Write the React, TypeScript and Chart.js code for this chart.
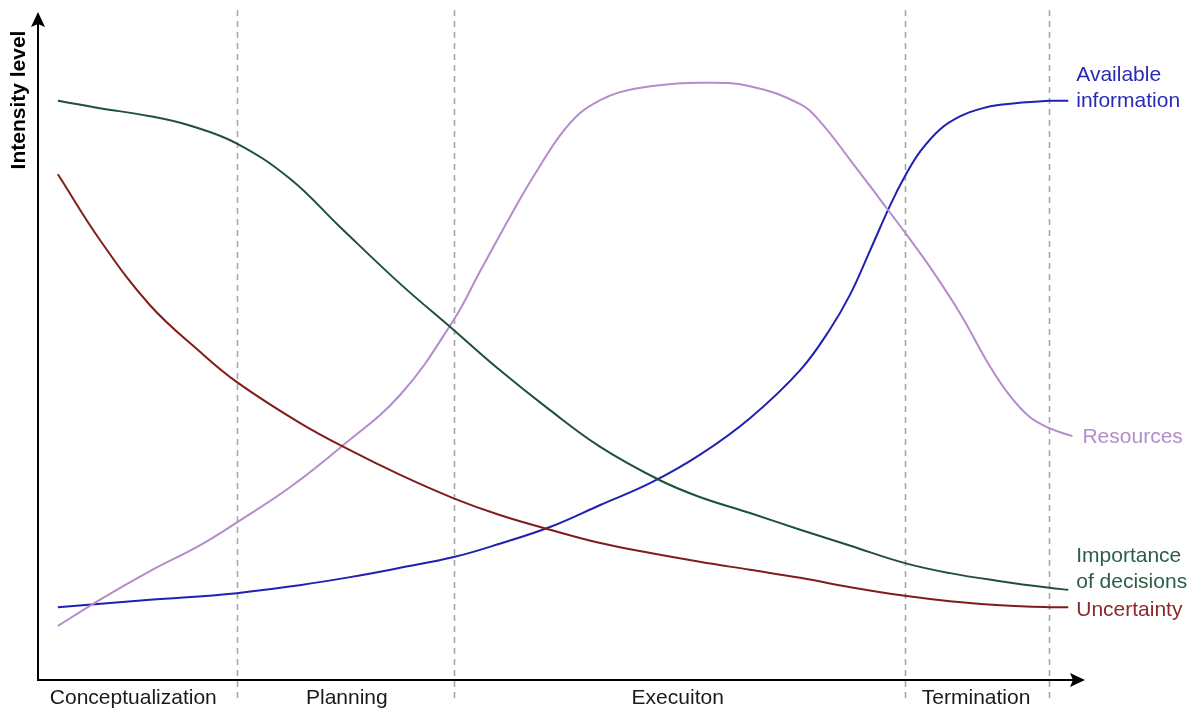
import React, { useEffect, useRef } from "react";
import { Chart, registerables } from "chart.js";

Chart.register(...registerables);

// Data in abstract units: x = project time (0..100), y = intensity (0..100)
const importanceX = [1.9, 5.9, 10.7, 14.5, 19.0, 24.1, 28.8, 34.6, 39.7, 44.1, 48.9, 53.7, 59.4, 63.2, 68.0, 72.8, 77.6, 82.8, 87.1, 91.9, 96.6, 98.4];
const importanceY = [86.7, 85.6, 84.4, 83.0, 80.3, 75.0, 67.9, 59.3, 52.4, 46.4, 40.4, 34.9, 29.9, 27.4, 25.0, 22.5, 20.1, 17.5, 16.0, 14.8, 13.8, 13.5];

const uncertaintyX = [1.9, 5.9, 10.7, 15.5, 19.0, 25.0, 29.8, 34.6, 39.7, 44.1, 48.9, 53.7, 58.5, 63.2, 68.0, 72.8, 77.6, 82.8, 87.1, 91.9, 96.6, 98.4];
const uncertaintyY = [75.7, 65.9, 56.1, 49.1, 44.6, 38.5, 34.4, 30.7, 27.2, 24.7, 22.5, 20.5, 19.0, 17.7, 16.5, 15.3, 13.9, 12.6, 11.8, 11.2, 10.9, 10.9];

const resourcesX = [1.9, 5.9, 10.7, 15.5, 19.0, 24.1, 28.8, 34.6, 39.7, 42.2, 46.0, 48.0, 49.9, 51.8, 53.7, 55.6, 58.5, 63.2, 68.0, 72.8, 74.7, 77.6, 80.4, 82.8, 85.2, 88.1, 90.9, 92.8, 94.7, 96.6, 98.8];
const resourcesY = [8.1, 12.0, 16.3, 20.2, 23.6, 28.9, 34.7, 42.7, 53.9, 61.1, 71.9, 77.1, 81.6, 84.9, 86.8, 88.0, 88.9, 89.4, 88.9, 86.2, 83.6, 77.8, 72.0, 67.0, 61.8, 54.8, 47.0, 42.6, 39.4, 37.7, 36.5];

const informationX = [1.9, 10.7, 19.0, 25.0, 29.8, 34.6, 39.7, 44.1, 48.9, 53.7, 58.5, 63.2, 68.0, 72.8, 75.6, 77.6, 79.5, 81.4, 82.8, 84.3, 86.2, 88.1, 90.0, 91.9, 96.6, 98.4];
const informationY = [10.9, 12.0, 13.0, 14.2, 15.4, 16.8, 18.4, 20.4, 22.9, 26.2, 29.5, 33.7, 39.2, 46.4, 52.4, 57.8, 64.4, 71.1, 75.4, 79.2, 82.5, 84.4, 85.5, 86.1, 86.7, 86.7];

const phaseBoundaries = [19.0, 39.7, 82.8, 96.6];
const phaseNames = ["Conceptualization", "Planning", "Execuiton", "Termination"];
const phaseCenters = [9.1, 29.5, 61.1, 89.6];

const seriesNames = [
  ["Importance", "of decisions"],
  ["Uncertainty"],
  ["Resources"],
  ["Available", "information"],
];
const lineColors = ["#1f5138", "#801c1c", "#b48ccb", "#2020b2"];
const textColors = ["#2c5e46", "#8c2828", "#b08dcc", "#2a2ab8"];
const yTitle = "Intensity level";

const FONT = "'Liberation Sans', Arial, sans-serif";

const toPts = (xs: number[], ys: number[]) => xs.map((x, i) => ({ x, y: ys[i] }));

const decorPlugin = {
  id: "decor",
  beforeDatasetsDraw(chart: any) {
    const { ctx, scales } = chart;
    const xs = scales.x;
    ctx.save();
    ctx.strokeStyle = "#a8a8a8";
    ctx.lineWidth = 1.6;
    ctx.setLineDash([6, 5]);
    phaseBoundaries.forEach((b) => {
      const px = Math.round(xs.getPixelForValue(b)) + 0.5;
      ctx.beginPath();
      ctx.moveTo(px, 10);
      ctx.lineTo(px, 700);
      ctx.stroke();
    });
    ctx.restore();
  },
  afterDraw(chart: any) {
    const { ctx, scales, chartArea } = chart;
    const xs = scales.x;
    const ys = scales.y;
    const left = chartArea.left;
    const bottom = chartArea.bottom;
    ctx.save();
    // axes
    ctx.strokeStyle = "#000";
    ctx.fillStyle = "#000";
    ctx.lineWidth = 2;
    ctx.setLineDash([]);
    ctx.beginPath();
    ctx.moveTo(left, bottom + 1);
    ctx.lineTo(left, chartArea.top + 10);
    ctx.stroke();
    ctx.beginPath();
    ctx.moveTo(left - 1, bottom);
    ctx.lineTo(chartArea.right - 10, bottom);
    ctx.stroke();
    // arrow heads
    ctx.beginPath();
    ctx.moveTo(left, chartArea.top);
    ctx.lineTo(left - 7, chartArea.top + 15);
    ctx.lineTo(left, chartArea.top + 12);
    ctx.lineTo(left + 7, chartArea.top + 15);
    ctx.closePath();
    ctx.fill();
    ctx.beginPath();
    ctx.moveTo(chartArea.right, bottom);
    ctx.lineTo(chartArea.right - 15, bottom - 7);
    ctx.lineTo(chartArea.right - 12, bottom);
    ctx.lineTo(chartArea.right - 15, bottom + 7);
    ctx.closePath();
    ctx.fill();

    // phase labels
    ctx.font = `21px ${FONT}`;
    ctx.fillStyle = "#1a1a1a";
    ctx.textAlign = "center";
    ctx.textBaseline = "middle";
    phaseNames.forEach((n, i) => {
      ctx.fillText(n, xs.getPixelForValue(phaseCenters[i]), bottom + 18);
    });

    // y title
    ctx.save();
    ctx.translate(19, 100);
    ctx.rotate(-Math.PI / 2);
    ctx.font = `bold 21px ${FONT}`;
    ctx.fillStyle = "#000";
    ctx.textAlign = "center";
    ctx.textBaseline = "middle";
    ctx.fillText(yTitle, 0, 0);
    ctx.restore();

    // series end labels
    ctx.font = `21px ${FONT}`;
    ctx.textAlign = "left";
    ctx.textBaseline = "middle";
    const lineH = 26;
    chart.data.datasets.forEach((ds: any, i: number) => {
      const last = ds.data[ds.data.length - 1];
      const px = xs.getPixelForValue(last.x);
      const py = ys.getPixelForValue(last.y);
      const lines = seriesNames[i];
      ctx.fillStyle = textColors[i];
      let startY: number;
      let tx = px + 8;
      if (i === 0) startY = py - 34;
      else if (i === 1) startY = py + 3;
      else if (i === 2) { startY = py + 1; tx = px + 10; }
      else startY = py - lineH;
      lines.forEach((l, k) => ctx.fillText(l, tx, startY + k * lineH));
    });
    ctx.restore();
  },
};

export default function App() {
  const ref = useRef<HTMLCanvasElement | null>(null);
  useEffect(() => {
    document.body.style.margin = "0";
    const canvas = ref.current;
    if (!canvas) return;
    const chart = new Chart(canvas, {
      type: "line",
      data: {
        datasets: [
          { label: "Importance of decisions", data: toPts(importanceX, importanceY) },
          { label: "Uncertainty", data: toPts(uncertaintyX, uncertaintyY) },
          { label: "Resources", data: toPts(resourcesX, resourcesY) },
          { label: "Available information", data: toPts(informationX, informationY) },
        ].map((d, i) => ({
          ...d,
          borderColor: lineColors[i],
          backgroundColor: lineColors[i],
          borderWidth: 2,
          pointRadius: 0,
          tension: 0.4,
          fill: false,
        })),
      },
      options: {
        animation: false,
        responsive: false,
        maintainAspectRatio: false,
        layout: { padding: { left: 38, right: 110, top: 12, bottom: 31 } },
        scales: {
          x: { type: "linear", min: 0, max: 100, display: false },
          y: { type: "linear", min: 0, max: 100, display: false },
        },
        plugins: {
          legend: { display: false },
          tooltip: { enabled: false },
        },
      },
      plugins: [decorPlugin],
    });
    return () => chart.destroy();
  }, []);
  return (
    <div style={{ position: "absolute", left: 0, top: 0, width: 1195, height: 711, background: "#fff" }}>
      <canvas ref={ref} width={1195} height={711} style={{ width: 1195, height: 711 }} />
    </div>
  );
}
